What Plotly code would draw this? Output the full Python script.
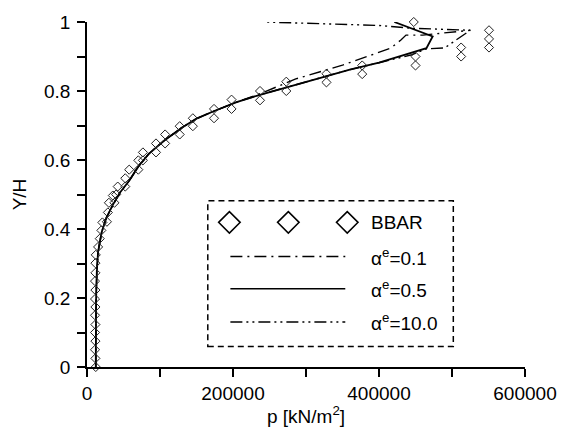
import plotly.graph_objects as go

# ---------------- data ----------------
bbar_p = [12000, 11500, 11000, 11500, 11000, 11500, 11000, 11500, 11000, 11500, 11000, 11500, 11500, 12000,
          15200, 17500, 19700, 21100, 27300, 28600, 30000, 37600, 35400, 39900, 42100, 52400, 52400,
          57800, 70300, 70300, 76600, 76600, 94500, 94500, 107000, 107000, 127000, 127000, 145000, 145000,
          174000, 174000, 198000, 198000, 237000, 237000, 273000, 273000, 328000, 328000, 377000, 377000,
          450000, 450000, 512500, 512500, 550700, 550700, 550700, 447600]
bbar_yh = [0.0, 0.025, 0.05, 0.075, 0.1, 0.123, 0.15, 0.174, 0.197, 0.223, 0.249, 0.273, 0.301, 0.325,
           0.348, 0.372, 0.396, 0.419, 0.421, 0.448, 0.476, 0.476, 0.497, 0.5, 0.523, 0.523, 0.547,
           0.572, 0.572, 0.599, 0.599, 0.622, 0.622, 0.648, 0.648, 0.674, 0.674, 0.698, 0.698, 0.721,
           0.721, 0.748, 0.748, 0.775, 0.773, 0.80, 0.80, 0.827, 0.825, 0.85, 0.849, 0.874,
           0.874, 0.90, 0.90, 0.926, 0.926, 0.951, 0.976, 1.0]

a05_p = [12000, 12000, 12500, 13500, 15200, 20000, 26000, 35400, 45000, 57800, 70000, 84700, 105000,
         129400, 150000, 174300, 205000, 237000, 273000, 320000, 360000, 400000, 435000, 465000, 473500, 421000]
a05_yh = [0.0, 0.1, 0.2, 0.28, 0.334, 0.39, 0.43, 0.47, 0.505, 0.54, 0.58, 0.618, 0.655,
          0.693, 0.72, 0.742, 0.768, 0.789, 0.811, 0.838, 0.862, 0.882, 0.905, 0.924, 0.958, 1.0]

a01_p = [12000, 12000, 12500, 13500, 15200, 20000, 26000, 35400, 45000, 57800, 70000, 84700, 105000,
         129400, 150000, 174300, 205000, 237000, 286000, 350000, 416000, 430000, 437000, 460000, 500000, 525000]
a01_yh = [0.0, 0.1, 0.2, 0.28, 0.334, 0.39, 0.43, 0.47, 0.505, 0.54, 0.58, 0.618, 0.655,
          0.693, 0.72, 0.742, 0.768, 0.792, 0.835, 0.875, 0.924, 0.948, 0.962, 0.962, 0.970, 0.976]

a10_p = [12000, 12000, 12500, 13500, 15200, 20000, 26000, 35400, 45000, 57800, 70000, 84700, 105000,
         129400, 150000, 174300, 205000, 237000, 273000, 320000, 360000, 400000, 445000, 465000, 490000,
         525000, 477000, 443000, 400000, 330000, 243000]
a10_yh = [0.0, 0.1, 0.2, 0.28, 0.334, 0.39, 0.43, 0.47, 0.505, 0.54, 0.58, 0.618, 0.655,
          0.693, 0.72, 0.742, 0.768, 0.789, 0.811, 0.838, 0.862, 0.882, 0.905, 0.922, 0.925,
          0.976, 0.980, 0.982, 0.990, 0.995, 1.0]

legend_labels = ["BBAR", "α<sup>e</sup>=0.1", "α<sup>e</sup>=0.5", "α<sup>e</sup>=10.0"]

# ---------------- figure ----------------
W, H = 569, 436
ML, MR, MT, MB = 87, 36, 15, 68
PW, PH = W - ML - MR, H - MT - MB
FONT = "Liberation Sans, Arial, sans-serif"

dash01 = "12px,5px,2px,5px"
dash10 = "12px,4px,2px,4px,2px,4px"

fig = go.Figure()
fig.add_trace(go.Scatter(x=a01_p, y=a01_yh, mode="lines",
                         line=dict(color="black", width=1.4, dash=dash01), showlegend=False))
fig.add_trace(go.Scatter(x=a10_p, y=a10_yh, mode="lines",
                         line=dict(color="black", width=1.4, dash=dash10), showlegend=False))
fig.add_trace(go.Scatter(x=a05_p, y=a05_yh, mode="lines",
                         line=dict(color="black", width=1.8), showlegend=False))
fig.add_trace(go.Scatter(x=bbar_p, y=bbar_yh, mode="markers", cliponaxis=False,
                         marker=dict(symbol="diamond-open", size=7, color="#222",
                                     line=dict(width=1, color="#222")),
                         showlegend=False))


def px2paper(X, Y):
    return (X - ML) / PW, (H - MB - Y) / PH


shapes = []
# legend box
x0, y1 = px2paper(210, 198)
x1, y0 = px2paper(460, 347)
shapes.append(dict(type="rect", xref="paper", yref="paper", x0=x0, x1=x1, y0=y0, y1=y1,
                   line=dict(color="black", width=1.5, dash="6px,4px"), fillcolor="white",
                   layer="above"))
rows_y = [220, 255, 288, 322]
# diamonds
for cx in [232, 292, 352]:
    cy = rows_y[0]
    r = 11
    pts = [px2paper(cx, cy - r), px2paper(cx + r, cy), px2paper(cx, cy + r), px2paper(cx - r, cy)]
    path = "M " + " L ".join(f"{a:.5f},{b:.5f}" for a, b in pts) + " Z"
    shapes.append(dict(type="path", xref="paper", yref="paper", path=path,
                       line=dict(color="black", width=1.5), layer="above"))
# sample lines
for ry, dsh, wd in [(rows_y[1], dash01, 1.4), (rows_y[2], "solid", 1.6), (rows_y[3], dash10, 1.4)]:
    lx0, ly = px2paper(233, ry)
    lx1, _ = px2paper(350, ry)
    shapes.append(dict(type="line", xref="paper", yref="paper", x0=lx0, x1=lx1, y0=ly, y1=ly,
                       line=dict(color="black", width=wd, dash=dsh), layer="above"))

annotations = []
for lab, ry in zip(legend_labels, rows_y):
    ax, ay = px2paper(374, ry)
    annotations.append(dict(xref="paper", yref="paper", x=ax, y=ay, text=lab, showarrow=False,
                            xanchor="left", yanchor="middle",
                            font=dict(family=FONT, size=19, color="black")))

tick_common = dict(showline=True, linecolor="black", linewidth=1.5,
                   ticks="outside", ticklen=8, tickwidth=1.5, tickcolor="black",
                   showgrid=False, zeroline=False)

fig.update_layout(
    width=W, height=H,
    margin=dict(l=ML, r=MR, t=MT, b=MB),
    paper_bgcolor="white", plot_bgcolor="white",
    shapes=shapes, annotations=annotations,
    font=dict(family=FONT, size=19, color="black"),
    xaxis=dict(range=[0, 600000], tick0=0, dtick=200000, tickformat="d",
               minor=dict(dtick=100000, ticks="outside", ticklen=8, tickwidth=1.5, tickcolor="black",
                          showgrid=False),
               title=dict(text="p [kN/m<sup>2</sup>]", standoff=7,
                          font=dict(family=FONT, size=19)),
               **tick_common),
    yaxis=dict(range=[0, 1], tick0=0, dtick=0.2,
               minor=dict(dtick=0.1, ticks="outside", ticklen=8, tickwidth=1.5, tickcolor="black",
                          showgrid=False),
               ticklabelstandoff=3,
               title=dict(text="Y/H", standoff=12, font=dict(family=FONT, size=19)),
               **tick_common),
)

fig.write_html("out.html")
